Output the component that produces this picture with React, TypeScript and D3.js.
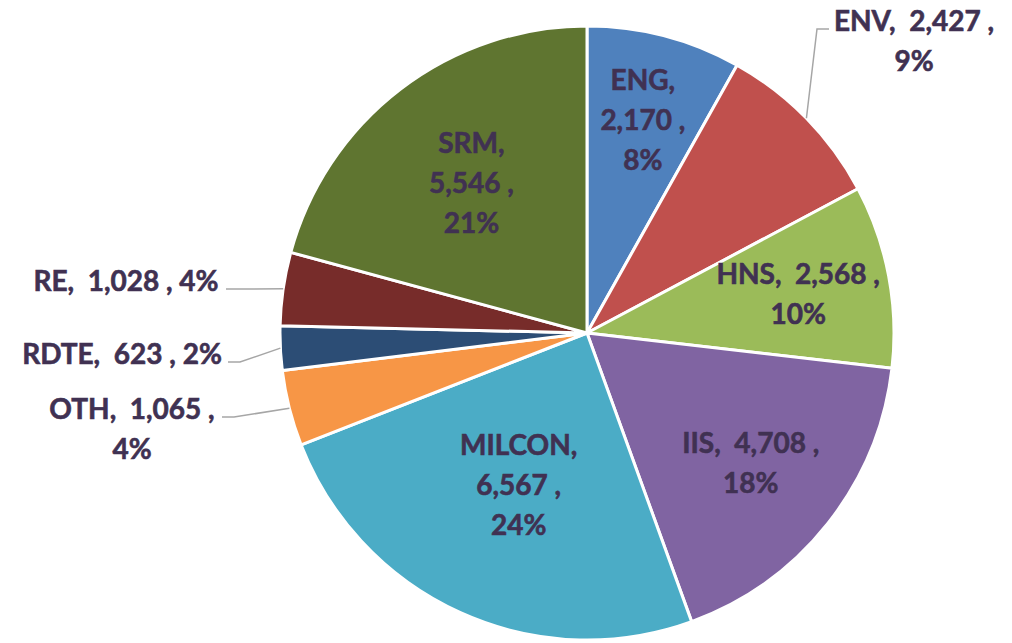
import React from "react";
import * as d3 from "d3";

const categories = ["ENG", "ENV", "HNS", "IIS", "MILCON", "OTH", "RDTE", "RE", "SRM"];
const values = [2170, 2427, 2568, 4708, 6567, 1065, 623, 1028, 5546];
const colors = ["#4F81BD", "#C0504D", "#9BBB59", "#8064A2", "#4BACC6", "#F79646", "#2C4D75", "#772C2A", "#5F7530"];

// label layout: inside labels at a fraction of radius, outside labels with explicit anchor
type LabelCfg = { inside: boolean; r?: number; lines: number; x?: number; y?: number; leader?: number };
const labelCfg: Record<string, LabelCfg> = {
  ENG: { inside: true, r: 0.72, lines: 3 },
  ENV: { inside: false, lines: 2, x: 914, y: 20, leader: 829 },
  HNS: { inside: true, r: 0.70, lines: 2 },
  IIS: { inside: true, r: 0.68, lines: 2 },
  MILCON: { inside: true, r: 0.54, lines: 3 },
  OTH: { inside: false, lines: 2, x: 132, y: 408, leader: 222 },
  RDTE: { inside: false, lines: 1, x: 122, y: 353, leader: 228 },
  RE: { inside: false, lines: 1, x: 126, y: 280, leader: 226 },
  SRM: { inside: true, r: 0.62, lines: 3 },
};

const W = 1012, H = 643;
const cx = 587, cy = 333, R = 307;
const LINE = 40;
const textColor = "#403152";

function fmt(v: number) { return d3.format(",")(v); }

// largest-remainder rounding so percentages sum to 100
function roundPercents(vals: number[]): number[] {
  const total = d3.sum(vals);
  const raw = vals.map((v) => (v / total) * 100);
  const fl = raw.map((r) => Math.floor(r));
  let left = 100 - d3.sum(fl);
  const order = raw.map((r, i) => ({ i, rem: r - Math.floor(r) })).sort((a, b) => b.rem - a.rem);
  for (const o of order) { if (left <= 0) break; fl[o.i] += 1; left--; }
  return fl;
}

export default function App() {
  const pcts = roundPercents(values);
  const data = categories.map((c, i) => ({ c, v: values[i], col: colors[i], p: pcts[i] }));
  const pie = d3.pie<any>().value((d) => d.v).sort(null);
  const arcs = pie(data);
  const arc = d3.arc<any>().innerRadius(0).outerRadius(R);

  return (
    <svg width={W} height={H} style={{ position: "absolute", left: 0, top: 0 }}>
      <rect width={W} height={H} fill="#fff" />
      <g transform={`translate(${cx},${cy})`}>
        {arcs.map((a, i) => (
          <path key={i} d={arc(a) as string} fill={a.data.col} stroke="#fff" strokeWidth={3} strokeLinejoin="round" />
        ))}
      </g>
      {arcs.map((a, i) => {
        const cfg = labelCfg[a.data.c];
        const pct = a.data.p + "%";
        const name = a.data.c + ",";
        const val = fmt(a.data.v) + " ,";
        let lines: string[];
        if (cfg.lines === 3) lines = [name, val, pct];
        else if (cfg.lines === 2) lines = [`${name}  ${val}`, pct];
        else lines = [`${name}  ${val} ${pct}`];
        const mid = (a.startAngle + a.endAngle) / 2;
        let lx: number, ly: number;
        const ex = cx + R * Math.sin(mid), ey = cy - R * Math.cos(mid);
        let leader: string | null = null;
        if (cfg.inside) {
          lx = cx + R * (cfg.r as number) * Math.sin(mid);
          ly = cy - R * (cfg.r as number) * Math.cos(mid);
        } else {
          lx = cfg.x as number; ly = cfg.y as number;
          const lyLine = ly + 9;
          const lead = cfg.leader as number;
          const knee = lead < cx ? lead + 12 : lead - 12;
          leader = `M${lead},${lyLine}L${knee},${lyLine}L${ex},${ey}`;
        }
        const y0 = cfg.inside ? ly - ((lines.length - 1) * LINE) / 2 : ly;
        return (
          <g key={i}>
            {leader && <path d={leader} fill="none" stroke="#A6A6A6" strokeWidth={1.5} />}
            <text
              x={lx}
              y={y0}
              textAnchor="middle"
              dominantBaseline="central"
              fill={textColor}
              stroke={textColor}
              strokeWidth={0.6}
              style={{ fontFamily: "Lato, 'Open Sans', sans-serif", fontWeight: 700, fontSize: 28, whiteSpace: "pre" }}
            >
              {lines.map((t, k) => (
                <tspan key={k} x={lx} y={y0 + k * LINE}>{t}</tspan>
              ))}
            </text>
          </g>
        );
      })}
    </svg>
  );
}
